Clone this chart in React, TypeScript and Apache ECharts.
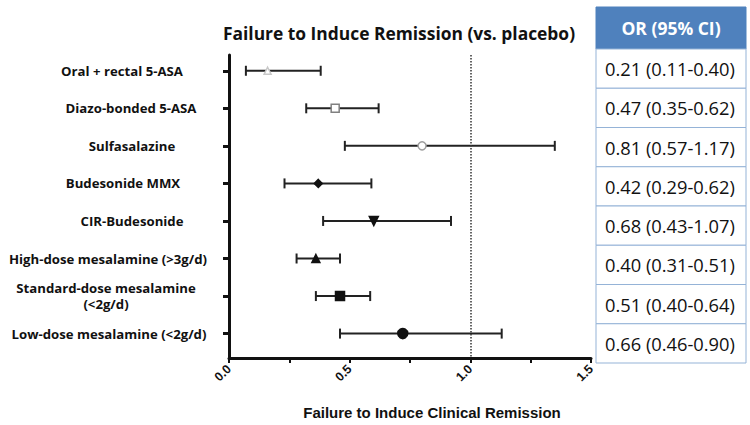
import React, { useEffect, useRef } from "react";
import * as echarts from "echarts";

const categories = [
  "Oral + rectal 5-ASA",
  "Diazo-bonded 5-ASA",
  "Sulfasalazine",
  "Budesonide MMX",
  "CIR-Budesonide",
  "High-dose mesalamine (>3g/d)",
  "Standard-dose mesalamine\n(<2g/d)",
  "Low-dose mesalamine (<2g/d)",
];
const pointEst = [0.16, 0.44, 0.8, 0.37, 0.6, 0.36, 0.46, 0.72];
const ciLow = [0.07, 0.32, 0.48, 0.23, 0.39, 0.28, 0.36, 0.46];
const ciHigh = [0.38, 0.62, 1.35, 0.59, 0.92, 0.46, 0.585, 1.13];
const orLabels = [
  "0.21 (0.11-0.40)",
  "0.47 (0.35-0.62)",
  "0.81 (0.57-1.17)",
  "0.42 (0.29-0.62)",
  "0.68 (0.43-1.07)",
  "0.40 (0.31-0.51)",
  "0.51 (0.40-0.64)",
  "0.66 (0.46-0.90)",
];
const xTicks = [0, 0.25, 0.5, 0.75, 1, 1.25, 1.5];
const xLabels = [0, 0.5, 1, 1.5];
const tableHeader = "OR (95% CI)";
const referenceLine = 1;

// horizontal shift (px) of each category label's centre, a style only
const labelShift = [2, 11, 12, 3, 12, -12, -14, -11];

const markerStyles = [
  { symbol: "triangle", size: 7, color: "#fff", border: "#c8c8c8" },
  { symbol: "rect", size: 8, color: "#fff", border: "#808080" },
  { symbol: "circle", size: 8, color: "#fff", border: "#a0a0a0" },
  { symbol: "diamond", size: 8, color: "#111", border: "#111" },
  { symbol: "path://M0,0 L10,0 L5,9 Z", size: 9, color: "#111", border: "#111" },
  { symbol: "triangle", size: 8, color: "#111", border: "#111" },
  { symbol: "rect", size: 9, color: "#111", border: "#111" },
  { symbol: "circle", size: 10, color: "#111", border: "#111" },
];

const FONT = "'Open Sans', sans-serif";
const ARIAL = "'Liberation Sans', Arial, sans-serif";

export default function App() {
  const ref = useRef<HTMLDivElement>(null);
  useEffect(() => {
    const chart = echarts.init(ref.current!, null, { renderer: "svg" });

    const tableX = 596;
    const tableW = 150;
    const headerY = 7;
    const headerH = 42;
    const rowH = 39.25;
    const tableGraphics: any[] = [
      {
        type: "rect",
        shape: { x: tableX, y: headerY, width: tableW, height: headerH },
        style: { fill: "#4F81BD", stroke: "#4F81BD" },
      },
      {
        type: "text",
        x: tableX + tableW / 2,
        y: headerY + headerH / 2,
        style: {
          text: tableHeader,
          fill: "#fff",
          font: `bold 17.5px ${FONT}`,
          textAlign: "center",
          textVerticalAlign: "middle",
        },
      },
    ];
    orLabels.forEach((t, i) => {
      const y = headerY + headerH + i * rowH;
      tableGraphics.push({
        type: "rect",
        shape: { x: tableX, y, width: tableW, height: rowH },
        style: { fill: "#fff", stroke: "#95B3D7", lineWidth: 1 },
      });
      tableGraphics.push({
        type: "text",
        x: tableX + 9,
        y: y + rowH / 2,
        style: {
          text: t,
          fill: "#111",
          font: `18.3px ${FONT}`,
          textAlign: "left",
          textVerticalAlign: "middle",
        },
      });
    });

    const rich: any = {};
    labelShift.forEach((s, i) => {
      rich["l" + i] = {
        fontFamily: FONT,
        fontWeight: "bold",
        fontSize: 13.2,
        lineHeight: 16,
        color: "#111",
        padding: s >= 0 ? [0, 0, 0, 2 * s] : [0, -2 * s, 0, 0],
      };
    });

    chart.setOption({
      animation: false,
      title: {
        text: "Failure to Induce Remission (vs. placebo)",
        left: 218,
        top: 19,
        textStyle: { fontFamily: FONT, fontWeight: "bold", fontSize: 17.4, color: "#111" },
      },
      grid: { left: 229, right: 159, top: 55, bottom: 61 },
      xAxis: {
        type: "value",
        min: 0,
        max: 1.5,
        interval: 0.25,
        name: "Failure to Induce Clinical Remission",
        nameLocation: "middle",
        nameGap: 47,
        nameTextStyle: {
          fontFamily: ARIAL,
          fontWeight: "bold",
          fontSize: 15,
          color: "#111",
          padding: [0, 0, 0, 44],
        },
        axisLine: { onZero: false, lineStyle: { color: "#111", width: 3 } },
        axisTick: { customValues: xTicks, length: 5, lineStyle: { color: "#111", width: 2 } },
        axisLabel: {
          customValues: xLabels,
          rotate: 45,
          margin: 9,
          fontFamily: ARIAL,
          fontWeight: "bold",
          fontSize: 12.5,
          color: "#111",
          formatter: (v: number) => v.toFixed(1),
        },
        splitLine: { show: false },
      },
      yAxis: {
        type: "value",
        inverse: true,
        min: -0.42,
        max: 7.65,
        axisLine: { show: true, onZero: false, lineStyle: { color: "#111", width: 3 } },
        axisTick: {
          show: true,
          customValues: categories.map((_, i) => i),
          length: 6,
          lineStyle: { color: "#111", width: 3 },
        },
        axisLabel: {
          customValues: categories.map((_, i) => i),
          formatter: (v: number) => {
            const i = Math.round(v);
            return (categories[i] ?? "")
              .split("\n")
              .map((line) => `{l${i}|${line}}`)
              .join("\n");
          },
          align: "center",
          margin: 109,
          rich,
        },
        splitLine: { show: false },
      },
      series: [
        {
          type: "custom",
          renderItem: (params: any, api: any) => {
            const lo = api.coord([api.value(0), api.value(2)]);
            const hi = api.coord([api.value(1), api.value(2)]);
            const cap = 5;
            const style = { stroke: "#222", lineWidth: 2 };
            return {
              type: "group",
              children: [
                { type: "line", shape: { x1: lo[0], y1: lo[1], x2: hi[0], y2: hi[1] }, style },
                { type: "line", shape: { x1: lo[0], y1: lo[1] - cap, x2: lo[0], y2: lo[1] + cap }, style },
                { type: "line", shape: { x1: hi[0], y1: hi[1] - cap, x2: hi[0], y2: hi[1] + cap }, style },
              ],
            };
          },
          encode: { x: [0, 1], y: 2 },
          data: categories.map((_, i) => [ciLow[i], ciHigh[i], i]),
          z: 2,
        },
        {
          type: "scatter",
          z: 3,
          data: categories.map((_, i) => ({
            value: [pointEst[i], i],
            symbol: markerStyles[i].symbol,
            symbolSize: markerStyles[i].size,
            itemStyle: {
              color: markerStyles[i].color,
              borderColor: markerStyles[i].border,
              borderWidth: 1.5,
              opacity: 1,
            },
          })),
          markLine: {
            silent: true,
            symbol: "none",
            label: { show: false },
            lineStyle: { type: "dotted", color: "#333", width: 1.5 },
            data: [{ xAxis: referenceLine }],
          },
        },
      ],
      graphic: tableGraphics,
    });
    return () => chart.dispose();
  }, []);
  return (
    <div
      ref={ref}
      style={{ position: "absolute", left: 0, top: 0, width: 750, height: 425 }}
    />
  );
}
